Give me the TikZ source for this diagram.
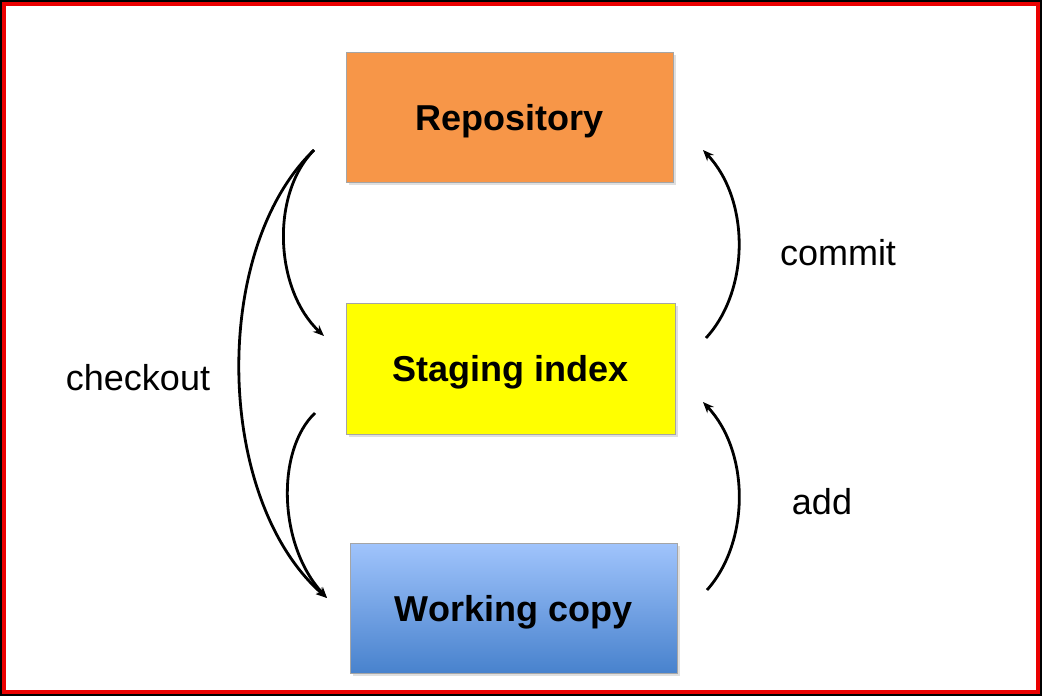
\documentclass[tikz,border=0pt]{standalone}
\usepackage{fontspec}
\setmainfont{Liberation Sans}
\usetikzlibrary{arrows.meta,shadows}
\definecolor{repoorange}{RGB}{247,150,72}
\definecolor{stageyellow}{RGB}{255,255,0}
\definecolor{worktop}{RGB}{160,196,252}
\definecolor{workbot}{RGB}{72,130,205}
\definecolor{boxedge}{RGB}{165,165,165}
\definecolor{framered}{RGB}{235,0,0}
\tikzset{
  box/.style={draw=boxedge, line width=0.8pt, minimum width=327pt, minimum height=130pt,
    inner sep=0pt, text height=26pt, text depth=0pt,
    font=\fontsize{36}{40}\selectfont\bfseries,
    drop shadow={shadow xshift=3pt, shadow yshift=-3pt, opacity=0.25}},
  flow/.style={line width=2.8pt, -{Stealth[length=11pt,width=9pt]}},
  lbl/.style={font=\fontsize{36}{40}\selectfont, inner sep=0pt}
}
\begin{document}
\begin{tikzpicture}[x=1pt,y=-1pt]
\useasboundingbox (0,0) rectangle (1042,696);
\fill[black] (0,0) rectangle (1042,696);
\fill[framered] (2,2) rectangle (1040,694);
\fill[white] (6,6) rectangle (1036,690);

\node[box, fill=repoorange] (repo) at (509.5,117) {Repository};
\node[box, fill=stageyellow, minimum width=329pt, minimum height=131pt] (stage) at (510.5,368.5) {Staging index};
\node[box, top color=worktop, bottom color=workbot] (work) at (513.5,608) {Working copy};

\node[lbl] (commit) at (838,253) {commit};
\node[lbl] (add) at (822,502) {add};
\node[lbl] (checkout) at (138,378) {checkout};

\coordinate (coStart) at (314,150);
\coordinate (coStage) at (324,336);
\coordinate (coWork) at (327,598);
\coordinate (swStart) at (315,413);
\coordinate (cmStart) at (706,338);
\coordinate (cmEnd) at (703,150);
\coordinate (adStart) at (707,590);
\coordinate (adEnd) at (703,402);

\draw[flow] (coStart) .. controls (270,195) and (275,290) .. (coStage);
\draw[flow] (coStart) .. controls (210,250) and (215,500) .. (coWork);
\draw[flow] (swStart) .. controls (276,450) and (278,545) .. (coWork);
\draw[flow] (cmStart) .. controls (750,290) and (750,200) .. (cmEnd);
\draw[flow] (adStart) .. controls (750,542) and (750,452) .. (adEnd);
\end{tikzpicture}
\end{document}
